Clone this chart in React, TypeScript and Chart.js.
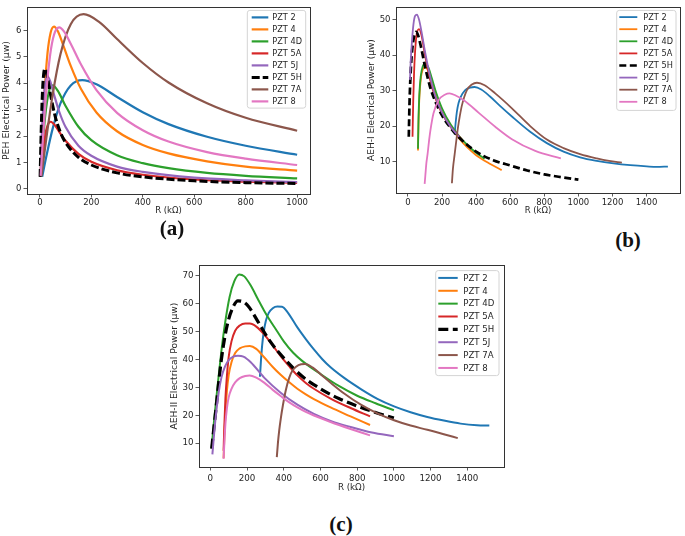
import React, { useEffect, useRef } from "react";
import { Chart, registerables } from "chart.js";

Chart.register(...registerables);

// ---------------- DATA ----------------
const LABELS_A = ["PZT 2", "PZT 4", "PZT 4D", "PZT 5A", "PZT 5J", "PZT 5H", "PZT 7A", "PZT 8"];
const LABELS_BC = ["PZT 2", "PZT 4", "PZT 4D", "PZT 5A", "PZT 5H", "PZT 5J", "PZT 7A", "PZT 8"];

const X_TICKS_A = [0, 200, 400, 600, 800, 1000];
const Y_TICKS_A = [0, 1, 2, 3, 4, 5, 6];
const X_TICKS_BC = [0, 200, 400, 600, 800, 1000, 1200, 1400];
const Y_TICKS_B = [10, 20, 30, 40, 50];
const Y_TICKS_C = [10, 20, 30, 40, 50, 60, 70];

// (a) PEH
const A_R_PZT2 = [9, 25, 50, 80, 120, 165, 220, 300, 400, 500, 650, 800, 1000];
const A_P_PZT2 = [0.45, 1.22, 2.29, 3.24, 3.92, 4.12, 3.96, 3.48, 2.9, 2.45, 1.97, 1.63, 1.29];
const A_R_PZT4 = [2, 8, 18, 30, 42, 55, 70, 90, 120, 160, 220, 300, 400, 500, 650, 800, 1000];
const A_P_PZT4 = [0.45, 1.75, 3.64, 5.17, 5.93, 6.15, 5.97, 5.47, 4.66, 3.78, 2.89, 2.18, 1.66, 1.34, 1.04, 0.84, 0.69];
const A_R_PZT4D = [3, 10, 20, 35, 50, 70, 100, 150, 200, 300, 400, 500, 650, 800, 1000];
const A_P_PZT4D = [0.47, 1.51, 2.7, 3.68, 3.92, 3.71, 3.14, 2.35, 1.84, 1.27, 0.97, 0.78, 0.6, 0.49, 0.39];
const A_R_PZT5A = [4, 10, 20, 30, 42, 60, 80, 100, 150, 200, 300, 400, 600, 800, 1000];
const A_P_PZT5A = [0.48, 1.14, 1.97, 2.4, 2.54, 2.39, 2.09, 1.82, 1.32, 1.02, 0.7, 0.53, 0.35, 0.27, 0.22];
const A_R_PZT5J = [2, 8, 15, 22, 30, 40, 55, 75, 100, 150, 200, 300, 400, 600, 800, 1000];
const A_P_PZT5J = [0.45, 2.12, 3.4, 4.05, 4.25, 4.08, 3.57, 2.93, 2.34, 1.63, 1.25, 0.84, 0.64, 0.42, 0.32, 0.25];
const A_R_PZT5H = [1, 5, 10, 15, 20, 30, 40, 60, 80, 100, 150, 200, 300, 400, 600, 800, 1000];
const A_P_PZT5H = [0.45, 2.14, 3.64, 4.37, 4.55, 4.2, 3.64, 2.73, 2.14, 1.75, 1.19, 0.9, 0.6, 0.45, 0.3, 0.23, 0.2];
const A_R_PZT7A = [6, 25, 50, 80, 120, 170, 230, 300, 400, 500, 650, 800, 1000];
const A_P_PZT7A = [0.47, 1.9, 3.58, 5.1, 6.24, 6.62, 6.33, 5.68, 4.77, 4.03, 3.24, 2.69, 2.2];
const A_R_PZT8 = [3, 10, 25, 40, 55, 75, 95, 120, 160, 220, 300, 400, 500, 650, 800, 1000];
const A_P_PZT8 = [0.49, 1.6, 3.67, 5.08, 5.84, 6.12, 5.95, 5.5, 4.71, 3.74, 2.88, 2.22, 1.79, 1.39, 1.14, 0.9];

// (b) AEH-I
const B_R_PZT2 = [274, 280, 287, 297, 310, 336, 365, 391, 430, 480, 540, 610, 717, 815, 913, 1010, 1108, 1206, 1304, 1401, 1460, 1525];
const B_P_PZT2 = [17.6, 21, 24, 26.5, 28.2, 30.1, 30.8, 31, 30.3, 28.4, 25.7, 22.7, 18.4, 15.2, 12.8, 11.2, 10.2, 9.5, 9.0, 8.65, 8.5, 8.6];
const B_R_PZT4 = [59, 62, 67, 75, 88, 102, 120, 140, 165, 200, 250, 300, 350, 400, 480, 550];
const B_P_PZT4 = [13.1, 21, 28, 33, 36, 36.5, 35.5, 32.5, 28.5, 24, 19.8, 16.5, 13.9, 11.8, 9.4, 7.6];
const B_R_PZT4D = [59, 62, 67, 75, 88, 102, 120, 140, 165, 200, 250, 300, 350, 400, 450];
const B_P_PZT4D = [13.6, 22, 29, 34, 37, 37.7, 36.5, 33.5, 29.5, 25, 20.5, 17.2, 14.6, 12.5, 10.8];
const B_R_PZT5A = [27, 31, 36, 42, 50, 65, 80, 100, 130, 160, 200, 250, 320];
const B_P_PZT5A = [17, 27, 35, 41, 45.5, 47.3, 45.5, 40, 33, 28, 23.5, 19.8, 16];
const B_R_PZT5H = [5, 9, 14, 20, 30, 47, 60, 80, 100, 130, 160, 200, 250, 300, 400, 500, 600, 700, 800, 900, 1000];
const B_P_PZT5H = [17, 26, 33, 38.5, 43.5, 46.5, 45.5, 41.5, 36.8, 31, 27, 23, 19.5, 16.8, 12.8, 10.4, 8.9, 7.5, 6.4, 5.6, 4.9];
const B_R_PZT5J = [12, 16, 23, 32, 42, 53, 65, 80, 100, 130, 160, 200, 250, 300];
const B_P_PZT5J = [33, 38, 43.5, 48.5, 51, 51.4, 50, 46.5, 41, 34, 28.5, 23.8, 19.8, 17];
const B_R_PZT7A = [258, 264, 274, 284, 293, 305, 317, 346, 375, 405, 450, 512, 610, 717, 815, 913, 1010, 1108, 1180, 1255];
const B_P_PZT7A = [3.9, 8, 12, 16, 19.4, 23, 25.9, 30.1, 31.7, 32.2, 31.5, 29.2, 25, 20, 16.2, 13.8, 12.1, 10.9, 10.2, 9.7];
const B_R_PZT8 = [98, 102, 108, 115, 123, 131, 150, 180, 219, 244, 280, 330, 414, 512, 610, 747, 897];
const B_P_PZT8 = [3.7, 6, 9.5, 12, 15.5, 18.5, 23.6, 27.3, 28.9, 29.2, 28.6, 27.2, 23.8, 19.8, 16.3, 13, 10.9];

// (c) AEH-II
const C_R_PZT2 = [270, 275, 282, 290, 302, 318, 340, 365, 390, 420, 474, 520, 564, 610, 655, 729, 820, 910, 1001, 1091, 1182, 1272, 1363, 1453, 1520];
const C_P_PZT2 = [33.8, 39, 45, 49.5, 53.8, 56.7, 58.4, 59, 58.9, 57, 51.5, 47.3, 43.6, 40.1, 37.2, 33.4, 29.4, 25.9, 23.2, 21.1, 19.4, 18.1, 17, 16.4, 16.3];
const C_R_PZT4 = [72, 76, 82, 90, 100, 115, 135, 160, 190, 215, 250, 293, 340, 383, 430, 474, 520, 564, 655, 764, 870];
const C_P_PZT4 = [4.6, 12, 21, 28.7, 34.5, 39, 42.3, 44, 44.7, 44.8, 43.8, 40.8, 37.3, 34.5, 31.8, 29.5, 27.5, 25.8, 22.8, 19.6, 16.5];
const C_R_PZT4D = [7, 20, 40, 60, 80, 105, 130, 157, 185, 220, 260, 293, 320, 360, 400, 450, 500, 600, 700, 800, 900, 1000];
const C_P_PZT4D = [8.5, 18, 31, 43, 53, 62.5, 68, 70.5, 69.8, 66.5, 61.5, 57.5, 54.5, 50.5, 46.5, 42.5, 39.5, 34.8, 30.5, 27, 24.3, 21.8];
const C_R_PZT5A = [72, 76, 82, 90, 100, 115, 135, 160, 190, 215, 250, 293, 340, 383, 430, 474, 520, 564, 655, 764, 870];
const C_P_PZT5A = [7.3, 16, 26, 34, 41, 46.5, 50.3, 52.2, 52.9, 52.9, 51.8, 49, 45, 41.2, 37.5, 34.3, 31.6, 29.5, 26, 22.6, 19.6];
const C_R_PZT5H = [7, 15, 30, 45, 60, 80, 100, 125, 150, 175, 210, 260, 320, 400, 500, 600, 700, 800, 900, 1000];
const C_P_PZT5H = [8, 13, 22, 31.5, 40, 48.5, 54.5, 59, 61, 60.8, 58.8, 53.5, 47, 40.5, 34, 29.5, 26, 23.3, 21, 19];
const C_R_PZT5J = [11, 20, 30, 45, 60, 80, 100, 125, 150, 180, 220, 293, 383, 474, 564, 655, 764, 880, 1000];
const C_P_PZT5J = [6, 13, 20, 28, 33.5, 37.5, 39.8, 41, 41.3, 41, 39, 33.5, 28.1, 23.8, 20.5, 18, 15.8, 13.8, 12.5];
const C_R_PZT7A = [362, 368, 375, 384, 395, 411, 430, 450, 480, 515, 560, 610, 660, 729, 820, 910, 1001, 1091, 1182, 1272, 1348];
const C_P_PZT7A = [5, 10, 14.5, 19, 23.5, 29, 33.5, 36.3, 38, 38.4, 37, 34.2, 31.4, 27.8, 23.8, 20.7, 18.2, 16.3, 14.8, 13.2, 11.8];
const C_R_PZT8 = [72, 76, 82, 90, 100, 115, 135, 160, 190, 214, 250, 293, 340, 383, 430, 474, 520, 564, 655, 764, 870];
const C_P_PZT8 = [4.4, 10, 17, 22.5, 26.5, 29.5, 31.8, 33.3, 34.1, 34.3, 33.5, 31.7, 29.1, 26.9, 24.6, 22.8, 21.2, 19.9, 17.6, 15.1, 12.8];

// ---------------- STYLE ----------------
const FONT = "'DejaVu Sans', sans-serif";
const TXT = "#262626";
const COLORS: Record<string, string> = {
  "PZT 2": "#1f77b4",
  "PZT 4": "#ff7f0e",
  "PZT 4D": "#2ca02c",
  "PZT 5A": "#d62728",
  "PZT 5J": "#9467bd",
  "PZT 5H": "#000000",
  "PZT 7A": "#8c564b",
  "PZT 8": "#e377c2",
};

type Series = { label: string; r: number[]; p: number[] };

const SERIES_A: Series[] = [
  { label: LABELS_A[0], r: A_R_PZT2, p: A_P_PZT2 },
  { label: LABELS_A[1], r: A_R_PZT4, p: A_P_PZT4 },
  { label: LABELS_A[2], r: A_R_PZT4D, p: A_P_PZT4D },
  { label: LABELS_A[3], r: A_R_PZT5A, p: A_P_PZT5A },
  { label: LABELS_A[4], r: A_R_PZT5J, p: A_P_PZT5J },
  { label: LABELS_A[5], r: A_R_PZT5H, p: A_P_PZT5H },
  { label: LABELS_A[6], r: A_R_PZT7A, p: A_P_PZT7A },
  { label: LABELS_A[7], r: A_R_PZT8, p: A_P_PZT8 },
];
const SERIES_B: Series[] = [
  { label: LABELS_BC[0], r: B_R_PZT2, p: B_P_PZT2 },
  { label: LABELS_BC[1], r: B_R_PZT4, p: B_P_PZT4 },
  { label: LABELS_BC[2], r: B_R_PZT4D, p: B_P_PZT4D },
  { label: LABELS_BC[3], r: B_R_PZT5A, p: B_P_PZT5A },
  { label: LABELS_BC[4], r: B_R_PZT5H, p: B_P_PZT5H },
  { label: LABELS_BC[5], r: B_R_PZT5J, p: B_P_PZT5J },
  { label: LABELS_BC[6], r: B_R_PZT7A, p: B_P_PZT7A },
  { label: LABELS_BC[7], r: B_R_PZT8, p: B_P_PZT8 },
];
const SERIES_C: Series[] = [
  { label: LABELS_BC[0], r: C_R_PZT2, p: C_P_PZT2 },
  { label: LABELS_BC[1], r: C_R_PZT4, p: C_P_PZT4 },
  { label: LABELS_BC[2], r: C_R_PZT4D, p: C_P_PZT4D },
  { label: LABELS_BC[3], r: C_R_PZT5A, p: C_P_PZT5A },
  { label: LABELS_BC[4], r: C_R_PZT5H, p: C_P_PZT5H },
  { label: LABELS_BC[5], r: C_R_PZT5J, p: C_P_PZT5J },
  { label: LABELS_BC[6], r: C_R_PZT7A, p: C_P_PZT7A },
  { label: LABELS_BC[7], r: C_R_PZT8, p: C_P_PZT8 },
];

type LegendSpec = {
  right: number; top: number; width: number; height: number;
  first: number; step: number; lx0: number; lx1: number; tx: number; font: number;
};

type PanelSpec = {
  series: Series[];
  left: number; top: number; width: number; height: number;
  padding: { left: number; right: number; top: number; bottom: number };
  yWidth: number; xHeight: number;
  xMin: number; xMax: number; yMin: number; yMax: number;
  xTicks: number[]; yTicks: number[];
  yTitle: string;
  lineWidth: number; dash: number[]; dashWidth: number;
  xTickPad: number; tickFont: number; titleFont: number; yTitleFont: number;
  legend: LegendSpec;
};

function roundRect(ctx: CanvasRenderingContext2D, x: number, y: number, w: number, h: number, r: number) {
  ctx.beginPath();
  ctx.moveTo(x + r, y);
  ctx.lineTo(x + w - r, y);
  ctx.arcTo(x + w, y, x + w, y + r, r);
  ctx.lineTo(x + w, y + h - r);
  ctx.arcTo(x + w, y + h, x + w - r, y + h, r);
  ctx.lineTo(x + r, y + h);
  ctx.arcTo(x, y + h, x, y + h - r, r);
  ctx.lineTo(x, y + r);
  ctx.arcTo(x, y, x + r, y, r);
  ctx.closePath();
}

const frameLegendPlugin = {
  id: "frameLegend",
  afterDatasetsDraw(chart: any, _args: any, opts: any) {
    const ctx: CanvasRenderingContext2D = chart.ctx;
    const ca = chart.chartArea;
    const L: LegendSpec = opts.spec;
    ctx.save();
    // axes frame
    ctx.strokeStyle = "#333";
    ctx.lineWidth = 1;
    ctx.setLineDash([]);
    ctx.strokeRect(Math.round(ca.left) + 0.5, Math.round(ca.top) + 0.5, Math.round(ca.right - ca.left), Math.round(ca.bottom - ca.top));
    // legend box
    const bx = ca.right - L.right - L.width;
    const by = ca.top + L.top;
    roundRect(ctx, bx, by, L.width, L.height, 2.5);
    ctx.fillStyle = "rgba(255,255,255,0.85)";
    ctx.fill();
    ctx.strokeStyle = "#d4d4d4";
    ctx.lineWidth = 1;
    ctx.stroke();
    chart.data.datasets.forEach((ds: any, i: number) => {
      const y = by + L.first + i * L.step;
      ctx.beginPath();
      ctx.setLineDash(ds.borderDash || []);
      ctx.lineCap = "butt";
      ctx.strokeStyle = ds.borderColor;
      ctx.lineWidth = ds.borderWidth;
      ctx.moveTo(bx + L.lx0, y);
      ctx.lineTo(bx + L.lx1, y);
      ctx.stroke();
      ctx.setLineDash([]);
      ctx.fillStyle = TXT;
      ctx.font = `${L.font}px ${FONT}`;
      ctx.textBaseline = "middle";
      ctx.textAlign = "left";
      ctx.fillText(ds.label, bx + L.tx, y + 0.5);
    });
    ctx.restore();
  },
};

function Panel({ spec }: { spec: PanelSpec }) {
  const ref = useRef<HTMLCanvasElement>(null);
  useEffect(() => {
    const n = spec.series.length;
    const datasets = spec.series.map((s, i) => {
      const is5H = s.label === "PZT 5H";
      return {
        label: s.label,
        data: s.r.map((x, k) => ({ x, y: s.p[k] })),
        borderColor: COLORS[s.label],
        backgroundColor: COLORS[s.label],
        borderWidth: is5H ? spec.dashWidth : spec.lineWidth,
        borderDash: is5H ? spec.dash : [],
        borderCapStyle: "butt",
        borderJoinStyle: "round",
        pointRadius: 0,
        pointHoverRadius: 0,
        fill: false,
        cubicInterpolationMode: "monotone",
        order: n - i,
      };
    });
    const gridOpts = {
      display: true,
      drawOnChartArea: false,
      drawTicks: true,
      tickLength: 3.5,
      color: "#333",
      lineWidth: 0.8,
    };
    const chart = new Chart(ref.current as HTMLCanvasElement, {
      type: "line",
      data: { datasets: datasets as any },
      options: {
        animation: false,
        responsive: false,
        devicePixelRatio: 1,
        events: [],
        layout: { padding: spec.padding },
        plugins: {
          legend: { display: false },
          tooltip: { enabled: false },
          frameLegend: { spec: spec.legend },
        } as any,
        scales: {
          x: {
            type: "linear",
            min: spec.xMin,
            max: spec.xMax,
            afterBuildTicks: (axis: any) => {
              axis.ticks = spec.xTicks.map((v) => ({ value: v }));
            },
            afterFit: (axis: any) => {
              axis.height = spec.xHeight;
            },
            grid: gridOpts,
            border: { display: false },
            ticks: {
              autoSkip: false,
              maxRotation: 0,
              padding: spec.xTickPad,
              color: TXT,
              font: { family: FONT, size: spec.tickFont },
              callback: (v: any) => String(v),
            },
            title: {
              display: true,
              text: "R (kΩ)",
              color: TXT,
              font: { family: FONT, size: spec.titleFont },
              padding: 0,
            },
          },
          y: {
            type: "linear",
            min: spec.yMin,
            max: spec.yMax,
            afterBuildTicks: (axis: any) => {
              axis.ticks = spec.yTicks.map((v) => ({ value: v }));
            },
            afterFit: (axis: any) => {
              axis.width = spec.yWidth;
            },
            grid: gridOpts,
            border: { display: false },
            ticks: {
              autoSkip: false,
              padding: 2,
              color: TXT,
              font: { family: FONT, size: spec.tickFont },
              callback: (v: any) => String(v),
            },
            title: {
              display: true,
              text: spec.yTitle,
              color: TXT,
              font: { family: FONT, size: spec.yTitleFont },
              padding: 0,
            },
          },
        },
      } as any,
      plugins: [frameLegendPlugin as any],
    });
    return () => chart.destroy();
  }, [spec]);
  return (
    <canvas
      ref={ref}
      width={spec.width}
      height={spec.height}
      style={{ position: "absolute", left: spec.left, top: spec.top, width: spec.width, height: spec.height }}
    />
  );
}

const PANEL_A: PanelSpec = {
  series: SERIES_A,
  left: 0, top: 0, width: 320, height: 216,
  padding: { left: 1.5, right: 10, top: 4, bottom: 0 },
  yWidth: 25.5, xHeight: 22,
  xMin: -50, xMax: 1050, yMin: -0.2, yMax: 6.89,
  xTicks: X_TICKS_A, yTicks: Y_TICKS_A,
  yTitle: "PEH Electrical Power (μw)",
  lineWidth: 2.2, dash: [8, 3], dashWidth: 3,
  xTickPad: 0, tickFont: 8.5, titleFont: 8.5, yTitleFont: 9.3,
  legend: { right: 4.3, top: 3.3, width: 58.4, height: 97.7, first: 7, step: 12, lx0: 4.4, lx1: 21, tx: 25, font: 8.2 },
};

const PANEL_B: PanelSpec = {
  series: SERIES_B,
  left: 365, top: 0, width: 320, height: 216,
  padding: { left: 1.5, right: 5, top: 4, bottom: 0 },
  yWidth: 29.5, xHeight: 23,
  xMin: -70, xMax: 1596, yMin: 1.15, yMax: 53.5,
  xTicks: X_TICKS_BC, yTicks: Y_TICKS_B,
  yTitle: "AEH-I Electrical Power (μw)",
  lineWidth: 1.8, dash: [7, 3.5], dashWidth: 2.7,
  xTickPad: 1, tickFont: 8.5, titleFont: 8.5, yTitleFont: 9,
  legend: { right: 4, top: 3.3, width: 59.3, height: 100, first: 6.7, step: 12.1, lx0: 2.6, lx1: 20.6, tx: 26.6, font: 8.2 },
};

const PANEL_C: PanelSpec = {
  series: SERIES_C,
  left: 168, top: 258, width: 342, height: 235,
  padding: { left: 1.5, right: 6, top: 5, bottom: 0 },
  yWidth: 29.5, xHeight: 26,
  xMin: -62, xMax: 1600, yMin: 1.45, yMax: 73.8,
  xTicks: X_TICKS_BC, yTicks: Y_TICKS_C,
  yTitle: "AEH-II Electrical Power (μw)",
  lineWidth: 2, dash: [10, 4.5], dashWidth: 3.2,
  xTickPad: 3, tickFont: 8.7, titleFont: 8.7, yTitleFont: 9.2,
  legend: { right: 5, top: 5.4, width: 63.3, height: 105, first: 7.3, step: 12.86, lx0: 2.6, lx1: 22, tx: 27.6, font: 8.6 },
};

const captionStyle = (x: number, y: number): React.CSSProperties => ({
  position: "absolute",
  left: x,
  top: y,
  transform: "translate(-50%, -50%)",
  fontFamily: "'Liberation Serif', 'Times New Roman', serif",
  fontWeight: "bold",
  fontSize: 21,
  lineHeight: 1,
  color: "#111",
  whiteSpace: "nowrap",
});

export default function App() {
  return (
    <div style={{ position: "absolute", left: 0, top: 0, width: 685, height: 536, background: "#fff", overflow: "hidden" }}>
      <Panel spec={PANEL_A} />
      <Panel spec={PANEL_B} />
      <Panel spec={PANEL_C} />
      <div style={captionStyle(172, 228)}>(a)</div>
      <div style={captionStyle(628, 240)}>(b)</div>
      <div style={captionStyle(341, 524)}>(c)</div>
    </div>
  );
}
